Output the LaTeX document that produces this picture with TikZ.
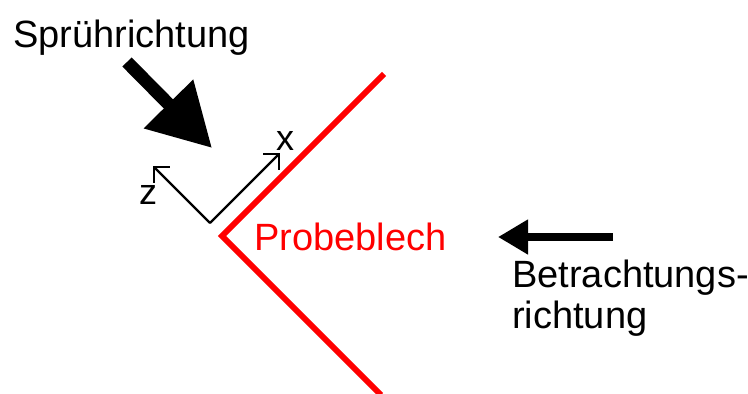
\documentclass[tikz,border=0pt]{standalone}
\usepackage{fontspec}
\setmainfont{Liberation Sans}
\usetikzlibrary{arrows.meta}

\begin{document}
\begin{tikzpicture}[x=1pt, y=-1pt, every node/.style={inner sep=0pt},
    lbl/.style={font=\fontsize{38}{41}\selectfont},
    blech/.style={red, line width=6pt, miter limit=20},
    achse/.style={line width=2.2pt, -{Straight Barb[length=11pt, width=22pt]}}]
                \useasboundingbox (0,0) rectangle (748,394);

                % Probeblech (V-Form)
                \coordinate (PO) at (384,74);
                \coordinate (PS) at (222,236);
                \coordinate (PU) at (381,395);
                \draw[blech] (PO) -- (PS) -- (PU);
                \node[lbl, red, anchor=base west] (probe) at (254,250) {Probeblech};

                % Sprührichtung
                \node[lbl, anchor=base west] (spray) at (13,47) {Sprührichtung};
                \coordinate (SA) at (127,62);
                \coordinate (SE) at (212,148);
                \draw[line width=13pt, -{Triangle[length=62pt, width=66pt]}] (SA) -- (SE);

                % Koordinatensystem x, z
                \coordinate (O) at (210,223);
                \coordinate (X) at (280,153);
                \coordinate (Z) at (153,166);
                \draw[achse] (O) -- (X);
                \draw[achse] (O) -- (Z);
                \node[lbl, font=\fontsize{36}{40}\selectfont] (xl) at (285,141) {x};
                \node[lbl, font=\fontsize{36}{40}\selectfont] (zl) at (148,195) {z};

                % Betrachtungsrichtung
                \coordinate (BA) at (613,237);
                \coordinate (BE) at (498,237);
                \draw[line width=8pt, -{Triangle[length=30pt, width=33pt]}] (BA) -- (BE);
                \node[lbl, align=left, anchor=north west] (betr) at (512,260) {Betrachtungs-\\richtung};
\end{tikzpicture}
\end{document}
